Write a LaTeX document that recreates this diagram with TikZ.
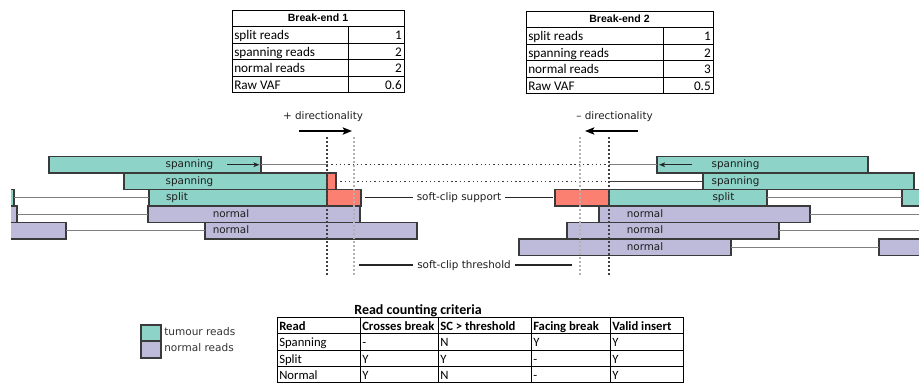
\documentclass[tikz,border=0pt]{standalone}
\usepackage{fontspec}
\setmainfont{Carlito}
\newfontfamily\dvs{DejaVu Sans}
\newfontfamily\lbs{Liberation Sans}
\usetikzlibrary{fit,arrows.meta}
\definecolor{tumc}{HTML}{8DD3C7}
\definecolor{norc}{HTML}{BEBADA}
\definecolor{scc}{HTML}{FB8072}
\definecolor{bordc}{HTML}{3A3A3A}
\definecolor{linkc}{HTML}{7F7F7F}
\definecolor{txtc}{HTML}{1E1E1E}
\tikzset{
  rbox/.style={draw=bordc, line width=0.8pt, inner sep=0pt, outer sep=0pt},
  tum/.style={rbox, fill=tumc},
  nor/.style={rbox, fill=norc},
  scl/.style={rbox, fill=scc},
  link/.style={draw=linkc, line width=1.1pt},
  dlink/.style={draw=bordc, line width=1.1pt},
  dots/.style={draw=bordc, line width=1pt, dash pattern=on 1pt off 2.2pt},
  brk/.style={draw=black!75, line width=0.9pt, dash pattern=on 1.6pt off 1.4pt},
  thr/.style={draw=black!30, line width=0.9pt, dash pattern=on 1.6pt off 1.4pt},
  rtxt/.style={font=\dvs\fontsize{7.8}{9}\selectfont, text=txtc, inner sep=0pt, anchor=mid},
  labtxt/.style={rtxt, inner xsep=3pt},
  labline/.style={draw=black!85, line width=1pt},
  dirarrow/.style={draw=black, line width=1.1pt, -{Stealth[length=7pt,width=5.5pt,inset=1.5pt]}},
  smallarrow/.style={draw=black!85, line width=0.8pt, -{Stealth[length=4.5pt,width=3.5pt,inset=1pt]}},
  tline/.style={draw=black, line width=0.75pt},
  tcell/.style={font=\fontsize{9.9}{11}\selectfont, inner sep=0pt},
  bcell/.style={font=\fontsize{9.5}{11}\selectfont, inner sep=0pt, anchor=base west},
  bhead/.style={bcell, font=\bfseries\fontsize{9.5}{11}\selectfont},
  thead/.style={font=\lbs\bfseries\fontsize{7.9}{9}\selectfont, inner sep=0pt, anchor=base},
  legtxt/.style={font=\dvs\fontsize{7.9}{9}\selectfont, text=black!80, inner sep=0pt, anchor=mid west},
}
\newcommand\rdbox[6]{\node[#6, fit={(#2,#3) (#4,#5)}] (#1) {};}
\begin{document}
\begin{tikzpicture}[x=0.75pt,y=-0.75pt]
\useasboundingbox (0,0) rectangle (919,383);
% ---------------- top tables ----------------
\draw[tline] (232,10) rectangle (404,92.5);
\foreach \yy in {26.5,43,59.5,76} \draw[tline] (232,\yy) -- (404,\yy);
\draw[tline] (348,26.5) -- (348,92.5);
\node[thead] (h1) at (318,21.8) {Break-end 1};
\node[tcell, anchor=base west] (a1) at (234,39.5) {split reads};
\node[tcell, anchor=base west] (a2) at (234,56) {spanning reads};
\node[tcell, anchor=base west] (a3) at (234,72.5) {normal reads};
\node[tcell, anchor=base west] (a4) at (234,89) {Raw VAF};
\node[tcell, anchor=base east] (v1) at (402,39.5) {1};
\node[tcell, anchor=base east] (v2) at (402,56) {2};
\node[tcell, anchor=base east] (v3) at (402,72.5) {2};
\node[tcell, anchor=base east] (v4) at (402,89) {0.6};

\draw[tline] (526,11) rectangle (713,93.5);
\foreach \yy in {27.5,44,60.5,77} \draw[tline] (526,\yy) -- (713,\yy);
\draw[tline] (663,27.5) -- (663,93.5);
\node[thead] (h2) at (619.5,22.8) {Break-end 2};
\node[tcell, anchor=base west] (b1) at (528,40.5) {split reads};
\node[tcell, anchor=base west] (b2) at (528,57) {spanning reads};
\node[tcell, anchor=base west] (b3) at (528,73.5) {normal reads};
\node[tcell, anchor=base west] (b4) at (528,90) {Raw VAF};
\node[tcell, anchor=base east] (w1) at (711,40.5) {1};
\node[tcell, anchor=base east] (w2) at (711,57) {2};
\node[tcell, anchor=base east] (w3) at (711,73.5) {3};
\node[tcell, anchor=base east] (w4) at (711,90) {0.5};

% ---------------- directionality ----------------
\node[rtxt] (dp) at (323,116) {+ directionality};
\coordinate (dpa) at (299,131); \coordinate (dpb) at (352,131);
\draw[dirarrow] (dpa) -- (dpb);
\node[rtxt] (dm) at (614.5,116) {– directionality};
\coordinate (dma) at (638,131); \coordinate (dmb) at (585,131);
\draw[dirarrow] (dma) -- (dmb);

% ---------------- reads ----------------
\begin{scope}
\clip (11,135) rectangle (919,280);
% row 0
\rdbox{ls1}{49}{156.5}{261}{173}{tum}
\rdbox{rs1}{657}{156.5}{868}{173}{tum}
\coordinate (lb0) at (327,164.75); \coordinate (rb0) at (609,164.75);
\draw[link] (ls1.east) -- (lb0);
\draw[dots] (lb0) -- (rb0);
\draw[link] (rb0) -- (rs1.west);
% row 1
\rdbox{ls2}{124}{173}{327}{189.5}{tum}
\rdbox{lc2}{327}{173}{336}{189.5}{scl}
\rdbox{rs2}{703}{173}{914}{189.5}{tum}
\coordinate (rb1) at (609,181.25);
\draw[dots] (lc2.east) -- (rb1);
\draw[dlink] (rb1) -- (rs2.west);
% row 2 (split)
\rdbox{lx3}{-30}{189.5}{14}{206}{tum}
\rdbox{ls3}{149}{189.5}{327}{206}{tum}
\rdbox{lc3}{327}{189.5}{361}{206}{scl}
\draw[link] (lx3.east) -- (ls3.west);
\rdbox{rc3}{555}{189.5}{609}{206}{scl}
\rdbox{rs3}{609}{189.5}{767}{206}{tum}
\rdbox{rx3}{902}{189.5}{960}{206}{tum}
\draw[link] (rs3.east) -- (rx3.west);
% row 3 (normal)
\rdbox{lx4}{-30}{206}{17}{222.5}{nor}
\rdbox{ln4}{148}{206}{360}{222.5}{nor}
\draw[link] (lx4.east) -- (ln4.west);
\rdbox{rn4}{599}{206}{810}{222.5}{nor}
\coordinate (re4) at (930,214.25);
\draw[link] (rn4.east) -- (re4);
% row 4 (normal)
\rdbox{lx5}{-30}{222.5}{66}{239}{nor}
\rdbox{ln5}{205}{222.5}{417}{239}{nor}
\draw[link] (lx5.east) -- (ln5.west);
\rdbox{rn5}{567}{222.5}{779}{239}{nor}
\coordinate (re5) at (930,230.75);
\draw[link] (rn5.east) -- (re5);
% row 5 (normal, right only)
\rdbox{rn6}{519}{239}{731}{255.5}{nor}
\rdbox{rx6}{879}{239}{960}{255.5}{nor}
\draw[link] (rn6.east) -- (rx6.west);
\end{scope}
% read labels
\node[rtxt] (t1) at (189.5,164.75) {spanning};
\node[rtxt] (t2) at (189.5,181.25) {spanning};
\node[rtxt] (t3) at (177,197.75) {split};
\node[rtxt] (t4) at (231,214.25) {normal};
\node[rtxt] (t5) at (231,230.75) {normal};
\node[rtxt] (u1) at (735.5,164.75) {spanning};
\node[rtxt] (u2) at (735.5,181.25) {spanning};
\node[rtxt] (u3) at (723.5,197.75) {split};
\node[rtxt] (u4) at (645,214.25) {normal};
\node[rtxt] (u5) at (645,230.75) {normal};
\node[rtxt] (u6) at (645,247.25) {normal};
% small arrows
\coordinate (sa1) at (227,164.75); \coordinate (sa2) at (259.5,164.75);
\draw[smallarrow] (sa1) -- (sa2);
\coordinate (sb1) at (692,164.75); \coordinate (sb2) at (659,164.75);
\draw[smallarrow] (sb1) -- (sb2);
% break and threshold lines
\coordinate (k1t) at (327,137); \coordinate (k1b) at (327,275);
\coordinate (h1t) at (354,137); \coordinate (h1b) at (354,275);
\coordinate (k2t) at (609,137); \coordinate (k2b) at (609,275);
\coordinate (h2t) at (580,137); \coordinate (h2b) at (580,275);
\draw[thr] (h1t) -- (h1b);
\draw[thr] (h2t) -- (h2b);
\draw[brk] (k1t) -- (k1b);
\draw[brk] (k2t) -- (k2b);
% labels
\node[labtxt] (scs) at (459,197.75) {soft-clip support};
\coordinate (scsa) at (365,197.75); \coordinate (scsb) at (553,197.75);
\draw[labline] (scsa) -- (scs.mid west);
\draw[labline] (scs.mid east) -- (scsb);
\node[labtxt] (sct) at (464,265) {soft-clip threshold};
\coordinate (scta) at (359,265); \coordinate (sctb) at (572,265);
\draw[labline] (scta) -- (sct.mid west);
\draw[labline] (sct.mid east) -- (sctb);

% ---------------- legend ----------------
\rdbox{lgt}{141}{325}{161}{341}{tum}
\rdbox{lgn}{141}{341}{161}{358}{nor}
\node[legtxt] (lgtt) at (164,332) {tumour reads};
\node[legtxt] (lgnt) at (164,348) {normal reads};

% ---------------- bottom table ----------------
\node[font=\bfseries\fontsize{10.5}{12}\selectfont, inner sep=0pt, anchor=base] (crit) at (418,314) {Read counting criteria};
\draw[tline] (277,317) rectangle (683,382.6);
\foreach \yy in {333.5,350,366.5} \draw[tline] (277,\yy) -- (683,\yy);
\foreach \xx in {360,438,531,610} \draw[tline] (\xx,317) -- (\xx,382.6);
\node[bhead] (c11) at (279,330) {Read};
\node[bhead] (c12) at (362,330) {Crosses break};
\node[bhead] (c13) at (440,330) {SC > threshold};
\node[bhead] (c14) at (533,330) {Facing break};
\node[bhead] (c15) at (612,330) {Valid insert};
\node[bcell] (c21) at (279,346.5) {Spanning};
\node[bcell] (c22) at (362,346.5) {-};
\node[bcell] (c23) at (440,346.5) {N};
\node[bcell] (c24) at (533,346.5) {Y};
\node[bcell] (c25) at (612,346.5) {Y};
\node[bcell] (c31) at (279,363) {Split};
\node[bcell] (c32) at (362,363) {Y};
\node[bcell] (c33) at (440,363) {Y};
\node[bcell] (c34) at (533,363) {-};
\node[bcell] (c35) at (612,363) {Y};
\node[bcell] (c41) at (279,379.5) {Normal};
\node[bcell] (c42) at (362,379.5) {Y};
\node[bcell] (c43) at (440,379.5) {N};
\node[bcell] (c44) at (533,379.5) {-};
\node[bcell] (c45) at (612,379.5) {Y};
\end{tikzpicture}
\end{document}
